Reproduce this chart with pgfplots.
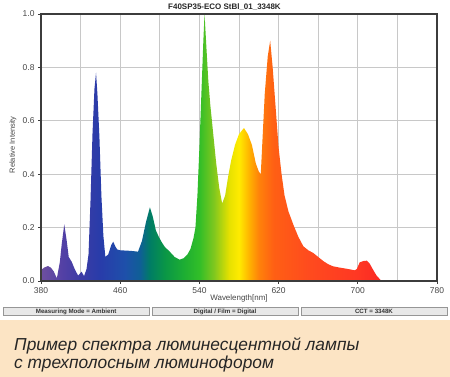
\documentclass[border=0pt]{standalone}
\usepackage{fontspec}
\setmainfont{Liberation Sans}
\usepackage{pgfplots}
\usepackage{pgfplotstable}
\pgfplotsset{compat=1.18}

\definecolor{capbg}{RGB}{252,228,196}
\definecolor{gridc}{RGB}{200,200,200}
\definecolor{axc}{RGB}{60,60,60}
\definecolor{tlc}{RGB}{70,70,70}
\definecolor{barfill}{RGB}{232,232,232}
\definecolor{bardraw}{RGB}{150,150,150}

\definecolor{c380}{RGB}{110,80,160}
\definecolor{c400}{RGB}{85,65,165}
\definecolor{c420}{RGB}{60,60,165}
\definecolor{c440}{RGB}{40,60,170}
\definecolor{c465}{RGB}{30,80,170}
\definecolor{c480}{RGB}{15,95,150}
\definecolor{c490}{RGB}{0,125,100}
\definecolor{c505}{RGB}{10,150,70}
\definecolor{c525}{RGB}{30,175,50}
\definecolor{c540}{RGB}{50,190,40}
\definecolor{c555}{RGB}{130,200,30}
\definecolor{c570}{RGB}{230,225,0}
\definecolor{c580}{RGB}{255,235,0}
\definecolor{c590}{RGB}{255,180,0}
\definecolor{c600}{RGB}{255,130,10}
\definecolor{c615}{RGB}{255,95,20}
\definecolor{c650}{RGB}{255,75,30}
\definecolor{c700}{RGB}{255,55,35}
\definecolor{c724}{RGB}{250,40,35}

\pgfdeclarehorizontalshading{spectrum}{100bp}{%
color(0bp)=(c380); color(25bp)=(c380); color(27.91bp)=(c400);
color(30.81bp)=(c420); color(33.72bp)=(c440); color(37.35bp)=(c465);
color(39.53bp)=(c480); color(40.99bp)=(c490); color(43.17bp)=(c505);
color(46.08bp)=(c525); color(48.26bp)=(c540); color(50.44bp)=(c555);
color(52.62bp)=(c570); color(54.07bp)=(c580); color(55.52bp)=(c590);
color(56.98bp)=(c600); color(59.16bp)=(c615); color(64.24bp)=(c650);
color(71.51bp)=(c700); color(75bp)=(c724); color(100bp)=(c724)}

\pgfplotstableread{
x y
380 0.040
383 0.050
387 0.056
390 0.050
393 0.035
396 0.010
399 0.070
401 0.140
403.5 0.212
406 0.150
408 0.090
411 0.072
414 0.045
417.5 0.020
421 0.035
423.5 0.018
426 0.045
428 0.100
430 0.300
432 0.550
434 0.720
435.6 0.780
437 0.700
439 0.540
441 0.320
443 0.170
445 0.090
448 0.100
451 0.135
453 0.147
455 0.130
457 0.118
460 0.115
470 0.113
478 0.110
482 0.150
486 0.220
490 0.276
493 0.240
496 0.190
499 0.165
502 0.145
505 0.128
510 0.110
515 0.090
520 0.080
524 0.085
528 0.100
531 0.120
534 0.160
536 0.200
538 0.320
540 0.500
542 0.700
544 0.900
545.2 1.000
547 0.880
549 0.750
551 0.660
554 0.550
557 0.440
560 0.350
563 0.290
566 0.320
569 0.390
572 0.450
576 0.510
580 0.550
585 0.573
589 0.550
593 0.510
597 0.440
600 0.410
602 0.400
604 0.550
606 0.700
609 0.840
611.5 0.900
614 0.800
617 0.650
620 0.500
623 0.400
626 0.320
630 0.260
635 0.210
640 0.165
645 0.130
650 0.115
655 0.105
660 0.090
665 0.075
670 0.063
675 0.055
682 0.050
690 0.045
697 0.040
699 0.045
702 0.070
706 0.075
709 0.076
712 0.065
715 0.045
719 0.020
724 0.000
}\spec

\begin{document}
\begin{tikzpicture}
\path[use as bounding box, fill=white] (0,0) rectangle (450bp,377bp);
\fill[capbg] (0,0) rectangle (450bp,57bp);
\begin{axis}[
  at={(41bp,96bp)}, anchor=south west, scale only axis,
  width=396bp, height=267bp,
  xmin=380, xmax=780, ymin=0, ymax=1,
  xtick={380,460,540,620,700,780},
  minor xtick={420,500,580,660,740},
  ytick={0,0.2,0.4,0.6,0.8,1},
  grid=both,
  major grid style={draw=gridc, line width=0.8bp},
  minor grid style={draw=gridc, line width=0.8bp},
  tick align=outside, tick pos=left,
  major tick length=3bp, minor tick length=0pt,
  axis line style={draw=axc, line width=1.3bp},
  tick style={draw=axc, line width=0.8bp},
  ticklabel style={font=\fontsize{8.5}{10}\selectfont, text=tlc},
  /pgf/number format/assume math mode=true,
  yticklabel style={/pgf/number format/.cd, fixed, fixed zerofill, precision=1},
  xticklabel style={/pgf/number format/.cd, 1000 sep={}},
  xlabel={Wavelength[nm]},
  xlabel style={at={(axis description cs:0.5,-0.0637)}, anchor=center,
    font=\fontsize{8}{10}\selectfont, text=tlc},
  ylabel={Relative Intensity},
  ylabel style={at={(axis description cs:-0.0707,0.51)}, anchor=center,
    font=\fontsize{7.5}{9}\selectfont, text=tlc},
  clip=false,
]
\addplot[draw=none, shading=spectrum] table[x=x, y=y] {\spec} \closedcycle;
\draw[axc, line width=1.3bp] (rel axis cs:0,0) rectangle (rel axis cs:1,1);
\end{axis}
\node[anchor=base, font=\bfseries\fontsize{8}{10}\selectfont, text=black!85] at (224.5bp,367bp) {F40SP35-ECO StBl\_01\_3348K};
\foreach \xa/\xb/\t in {3.3/149/{Measuring Mode = Ambient}, 152/298/{Digital / Film = Digital}, 301/447/{CCT = 3348K}} {
  \draw[fill=barfill, draw=bardraw, line width=0.6bp] (\xa bp,61.3bp) rectangle (\xb bp,69.7bp);
  \node[font=\bfseries\fontsize{6.2}{7}\selectfont, text=black!80, inner sep=0pt] at ({(\xa+\xb)/2*1bp},65.5bp) {\t};
}
\node[anchor=base west, inner sep=0pt, font=\itshape\fontsize{17.4}{18}\selectfont, text=black!85] at (14bp,27bp) {Пример спектра люминесцентной лампы};
\node[anchor=base west, inner sep=0pt, font=\itshape\fontsize{17.4}{18}\selectfont, text=black!85] at (14bp,8.7bp) {с трехполосным люминофором};
\end{tikzpicture}
\end{document}
